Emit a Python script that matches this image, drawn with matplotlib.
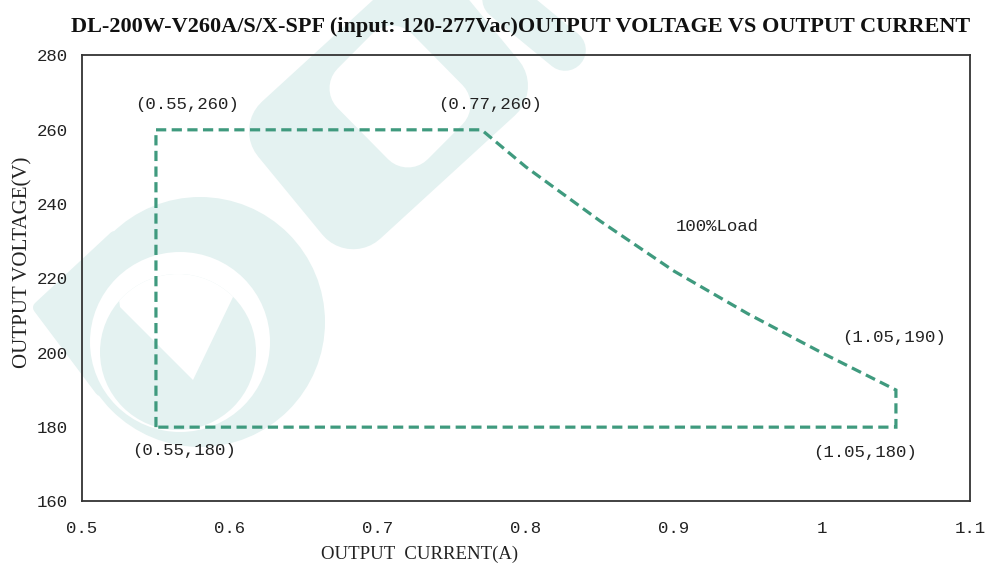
import matplotlib
matplotlib.use("Agg")
import matplotlib.pyplot as plt
from matplotlib.patches import Polygon, Ellipse
from matplotlib.lines import Line2D

# Courbe de sortie (courant A, tension V)
current = [0.55, 0.55, 0.77, 0.80, 0.85, 0.90, 0.95, 1.00, 1.05, 1.05, 0.55]
voltage = [180, 260, 260, 250, 235.5, 222, 210.5, 200, 190, 180, 180]

# Etiquettes des points
point_labels = ["(0.55,260)", "(0.77,260)", "(1.05,190)", "(1.05,180)", "(0.55,180)"]
label_x = [0.571, 0.776, 1.049, 1.029, 0.569]
label_y = [266.8, 266.8, 204.0, 173.2, 173.8]

xticks = [0.5, 0.6, 0.7, 0.8, 0.9, 1.0, 1.1]
xtick_labels = ["0.5", "0.6", "0.7", "0.8", "0.9", "1", "1.1"]
yticks = [160, 180, 200, 220, 240, 260, 280]

title = "DL-200W-V260A/S/X-SPF (input: 120-277Vac)OUTPUT VOLTAGE VS OUTPUT CURRENT"

W, H = 985, 584
green = "#3f9a7e"
wm = "#e4f2f1"  # couleur du filigrane

fig = plt.figure(figsize=(W / 100, H / 100), dpi=100)
fig.patch.set_facecolor("white")


def fxy(x, y):
    # pixels (origine en haut a gauche) -> coordonnees figure
    return (x / W, 1 - y / H)


def blob(pts, r, color, z):
    cx = sum(p[0] for p in pts) / len(pts)
    cy = sum(p[1] for p in pts) / len(pts)
    shr = []
    for x, y in pts:
        dx, dy = cx - x, cy - y
        d = (dx ** 2 + dy ** 2) ** 0.5
        shr.append(fxy(x + dx / d * r, y + dy / d * r))
    p = Polygon(shr, closed=True, facecolor=color, edgecolor=color,
                lw=2 * r * 0.72, joinstyle="round", transform=fig.transFigure, zorder=z)
    fig.add_artist(p)
    return p


def disk(x, y, r, color, z):
    e = Ellipse(fxy(x, y), 2 * r / W, 2 * r / H, facecolor=color, edgecolor="none",
                transform=fig.transFigure, zorder=z)
    fig.add_artist(e)
    return e


# filigrane du logo
blob([(250, 140), (340, 247), (527, 77), (437, -30)], 40, wm, -6)
blob([(330, 83), (413, 167), (470, 110), (387, 26)], 28, "white", -5)
band = Line2D([480 / W, 565 / W], [1 + 20 / H, 1 - 50 / H], lw=30, color=wm,
              solid_capstyle="round", transform=fig.transFigure, zorder=-6)
fig.add_artist(band)
disk(200, 322, 125, wm, -6)
blob([(33, 307), (115, 231), (200, 322), (100, 396)], 6, wm, -6)
disk(180, 342, 90, "white", -5)
inner = disk(178, 352, 78, wm, -4)
wedge = Polygon([fxy(120, 307), fxy(193, 380), fxy(233, 297), fxy(240, 230), fxy(110, 230)],
                closed=True, facecolor="white", edgecolor="none",
                transform=fig.transFigure, zorder=-3)
fig.add_artist(wedge)
wedge.set_clip_path(inner)

ax = fig.add_axes([0.0832, 0.1413, 0.9015, 0.7637])
ax.set_facecolor("none")

ax.plot(current, voltage, color=green, lw=2.3, dashes=(3.2, 1.7),
        dash_joinstyle="miter", dash_capstyle="butt")

mono = "Liberation Mono"
for txt, x, y in zip(point_labels, label_x, label_y):
    ax.text(x, y, txt, ha="center", va="center", family=mono, fontsize=12.5, color="#222222")
ax.text(0.929, 234.0, "100%Load", ha="center", va="center", family=mono, fontsize=12.5,
        color="#222222")

ax.set_xlim(0.5, 1.1)
ax.set_ylim(160, 280)
ax.set_xticks(xticks)
ax.set_xticklabels(xtick_labels)
ax.set_yticks(yticks)
for lab in ax.get_xticklabels() + ax.get_yticklabels():
    lab.set_family(mono)
    lab.set_fontsize(12.5)
    lab.set_color("#222222")
ax.tick_params(axis="x", length=0, pad=14)
ax.tick_params(axis="y", length=0, pad=10)
for s in ax.spines.values():
    s.set_color("#333333")
    s.set_linewidth(1.3)

ax.set_xlabel("OUTPUT  CURRENT(A)", family="Liberation Serif", fontsize=13.5, color="#222222")
ax.xaxis.set_label_coords(0.38, -0.10)
ax.set_ylabel("OUTPUT VOLTAGE(V)", family="Liberation Serif", fontsize=15, color="#222222")
ax.yaxis.set_label_coords(-0.056, 0.537)

fig.text(0.528, 0.954, title, ha="center", va="center", family="Liberation Serif",
         fontweight="bold", fontsize=16, color="#111111")

fig.savefig("out.png", dpi=100)
